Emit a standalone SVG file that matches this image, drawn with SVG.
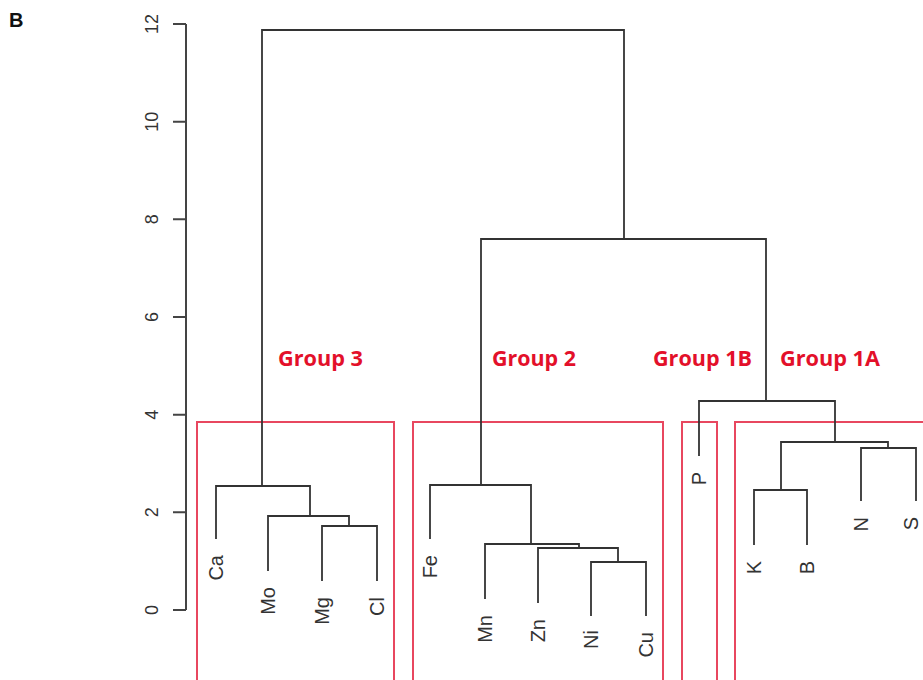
<svg xmlns="http://www.w3.org/2000/svg" width="923" height="680" viewBox="0 0 923 680">
<style>
.ln{fill:none;stroke:#333;stroke-width:1.8;stroke-linejoin:miter;stroke-linecap:square}
.ax{fill:none;stroke:#444;stroke-width:2}
.tk{font-family:"Liberation Sans",Arial,sans-serif;font-size:18px;fill:#333;text-anchor:middle}
.lf{font-family:"Liberation Sans",Arial,sans-serif;font-size:20px;fill:#333;text-anchor:end}
.box{fill:none;stroke:#e8475f;stroke-width:2}
.gl{font-family:"Open Sans","Liberation Sans",sans-serif;font-weight:700;font-size:22px;fill:#e3102a}
</style>
<rect width="923" height="680" fill="#fff"/>
<text x="9" y="27" font-family="Liberation Sans,Arial,sans-serif" font-weight="700" font-size="20" fill="#111">B</text>
<g id="axis">
<path class="ax" d="M186,24 V610 M173,24 H186 M173,121.7 H186 M173,219.3 H186 M173,317 H186 M173,414.7 H186 M173,512.3 H186 M173,610 H186"/>
<text class="tk" transform="translate(158,24) rotate(-90)">12</text>
<text class="tk" transform="translate(158,121.7) rotate(-90)">10</text>
<text class="tk" transform="translate(158,219.3) rotate(-90)">8</text>
<text class="tk" transform="translate(158,317) rotate(-90)">6</text>
<text class="tk" transform="translate(158,414.7) rotate(-90)">4</text>
<text class="tk" transform="translate(158,512.3) rotate(-90)">2</text>
<text class="tk" transform="translate(158,610) rotate(-90)">0</text>
</g>
<g id="group3">
<rect class="box" x="197" y="422" width="197" height="290"/>
<text class="gl" x="278" y="366" textLength="85" lengthAdjust="spacingAndGlyphs">Group 3</text>
</g>
<g id="group2">
<rect class="box" x="413" y="422" width="250" height="290"/>
<text class="gl" x="492" y="366" textLength="84" lengthAdjust="spacingAndGlyphs">Group 2</text>
</g>
<g id="group1B">
<rect class="box" x="682" y="422" width="35" height="290"/>
<text class="gl" x="653" y="366" textLength="99" lengthAdjust="spacingAndGlyphs">Group 1B</text>
</g>
<g id="group1A">
<rect class="box" x="735" y="422" width="220" height="290"/>
<text class="gl" x="780" y="366" textLength="100" lengthAdjust="spacingAndGlyphs">Group 1A</text>
</g>
<g id="connectors">
<path class="ln" d="M262,486 V30 H624 V239"/>
<path class="ln" d="M481,485 V239 H766 V401"/>
<path class="ln" d="M216,538 V486 H310 V516"/>
<path class="ln" d="M268,570 V516 H349 V526"/>
<path class="ln" d="M322,580 V526 H377 V580"/>
<path class="ln" d="M430,538 V485 H531 V544"/>
<path class="ln" d="M485,598 V544 H579 V548"/>
<path class="ln" d="M538,602 V548 H618 V562"/>
<path class="ln" d="M591,615 V562 H646 V615"/>
<path class="ln" d="M699,455 V401 H835 V442"/>
<path class="ln" d="M781,490 V442 H888 V448"/>
<path class="ln" d="M754,544 V490 H807 V544"/>
<path class="ln" d="M861,500 V448 H916 V500"/>
</g>
<g id="leaf-Ca"><text class="lf" transform="translate(223,555) rotate(-90)">Ca</text></g>
<g id="leaf-Mo"><text class="lf" transform="translate(275,587) rotate(-90)">Mo</text></g>
<g id="leaf-Mg"><text class="lf" transform="translate(329,597) rotate(-90)">Mg</text></g>
<g id="leaf-Cl"><text class="lf" transform="translate(384,597) rotate(-90)">Cl</text></g>
<g id="leaf-Fe"><text class="lf" transform="translate(437,555) rotate(-90)">Fe</text></g>
<g id="leaf-Mn"><text class="lf" transform="translate(492,615) rotate(-90)">Mn</text></g>
<g id="leaf-Zn"><text class="lf" transform="translate(545,619) rotate(-90)">Zn</text></g>
<g id="leaf-Ni"><text class="lf" transform="translate(598,630) rotate(-90)">Ni</text></g>
<g id="leaf-Cu"><text class="lf" transform="translate(653,632) rotate(-90)">Cu</text></g>
<g id="leaf-P"><text class="lf" transform="translate(706,472) rotate(-90)">P</text></g>
<g id="leaf-K"><text class="lf" transform="translate(761,561) rotate(-90)">K</text></g>
<g id="leaf-B"><text class="lf" transform="translate(814,561) rotate(-90)">B</text></g>
<g id="leaf-N"><text class="lf" transform="translate(868,517) rotate(-90)">N</text></g>
<g id="leaf-S"><text class="lf" transform="translate(918,517) rotate(-90)">S</text></g>
</svg>
